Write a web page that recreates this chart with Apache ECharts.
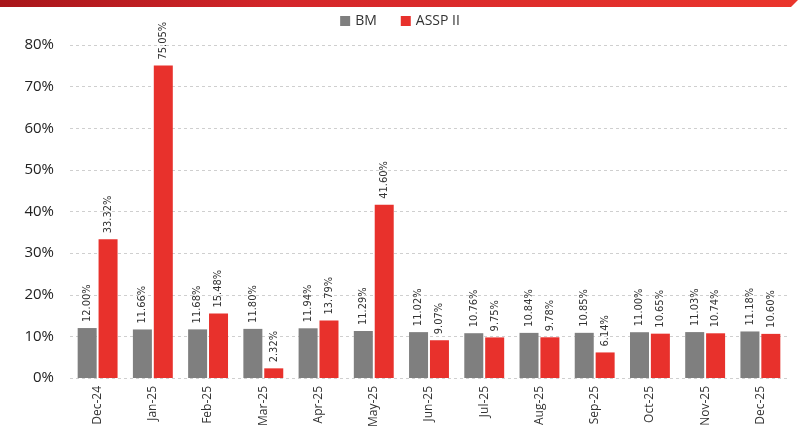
<!DOCTYPE html>
<html>
<head>
<meta charset="utf-8">
<script src="https://cdn.jsdelivr.net/npm/echarts@6/dist/echarts.min.js"></script>
<style>
  html, body { margin: 0; padding: 0; background: #fff; }
  #chart { width: 800px; height: 434px; }
</style>
</head>
<body>
<div id="chart"></div>
<script>
const months = ['Dec-24', 'Jan-25', 'Feb-25', 'Mar-25', 'Apr-25', 'May-25', 'Jun-25',
  'Jul-25', 'Aug-25', 'Sep-25', 'Oct-25', 'Nov-25', 'Dec-25']
const bmValues = [12.00, 11.66, 11.68, 11.80, 11.94, 11.29, 11.02, 10.76, 10.84, 10.85, 11.00, 11.03, 11.18]
const asspValues = [33.32, 75.05, 15.48, 2.32, 13.79, 41.60, 9.07, 9.75, 9.78, 6.14, 10.65, 10.74, 10.60]

const myChart = echarts.init(document.getElementById('chart'))

const barLabel = {
  show: true,
  position: 'top',
  rotate: 90,
  align: 'left',
  verticalAlign: 'middle',
  distance: 6,
  color: '#333',
  fontSize: 11,
  fontFamily: 'DejaVu Sans Condensed',
  formatter: p => p.value.toFixed(2) + '%'
}

const option = {
  animation: false,
  backgroundColor: '#fff',
  graphic: [{
    type: 'polygon',
    shape: { points: [[0, 0], [798, 0], [791, 7], [0, 7]] },
    style: {
      fill: new echarts.graphic.LinearGradient(0, 0, 1, 0, [
        { offset: 0, color: '#a8161a' },
        { offset: 0.35, color: '#d4262a' },
        { offset: 1, color: '#ea352c' }
      ])
    }
  }],
  legend: {
    top: 9,
    left: 'center',
    itemWidth: 10,
    itemHeight: 10,
    itemGap: 24,
    icon: 'rect',
    textStyle: { color: '#333', fontSize: 14, fontFamily: 'Open Sans' },
    data: ['BM', 'ASSP II']
  },
  grid: { left: 70, right: 12, top: 45, bottom: 56 },
  xAxis: {
    type: 'category',
    data: months,
    axisLine: { show: false },
    axisTick: { show: false },
    axisLabel: {
      rotate: 90,
      interval: 0,
      color: '#333',
      fontSize: 12,
      fontFamily: 'Open Sans',
      margin: 8
    }
  },
  yAxis: {
    type: 'value',
    min: 0,
    max: 80,
    interval: 10,
    axisLine: { show: false },
    axisTick: { show: false },
    axisLabel: {
      formatter: '{value}%',
      color: '#222',
      fontSize: 15,
      fontFamily: 'Open Sans',
      margin: 16
    },
    splitLine: { lineStyle: { color: '#cfcfcf', type: [3, 3] } }
  },
  series: [
    {
      name: 'BM',
      type: 'bar',
      data: bmValues,
      barWidth: 19,
      barGap: '10%',
      itemStyle: { color: '#7f7f7f' },
      label: barLabel
    },
    {
      name: 'ASSP II',
      type: 'bar',
      data: asspValues,
      barWidth: 19,
      itemStyle: { color: '#e8312c' },
      label: barLabel
    }
  ]
}

myChart.setOption(option)
</script>
</body>
</html>
